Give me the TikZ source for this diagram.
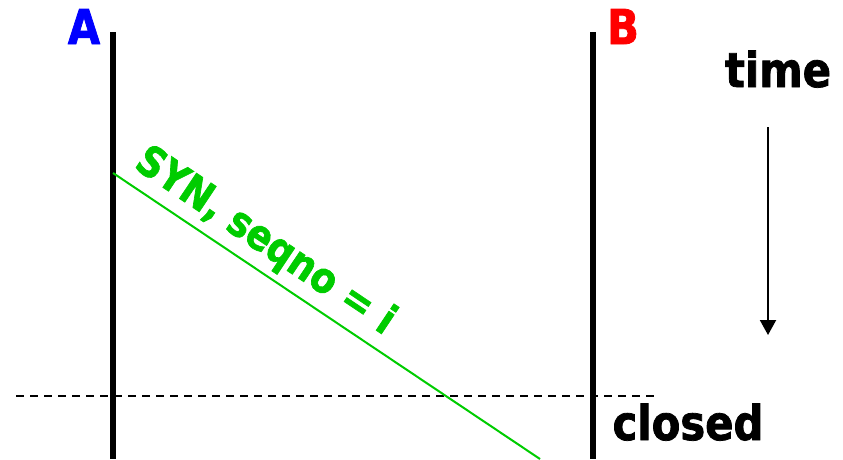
\documentclass[tikz,border=0pt]{standalone}
\usepackage{fontspec}
\setmainfont{DejaVu Sans}[FakeStretch=0.87,BoldFeatures={FakeBold=1.6}]
\usetikzlibrary{arrows.meta}
\definecolor{synGreen}{RGB}{0,204,0}
\begin{document}
\begin{tikzpicture}[x=1pt,y=-1pt,line cap=butt,
    lbl/.style={font=\fontsize{48}{48}\selectfont\bfseries,inner sep=0pt}]
  \useasboundingbox (0,0) rectangle (843,459);
  \def\top{32}
  \def\bot{459}
  % the two hosts
  \coordinate (Atop) at (113,\top);
  \coordinate (Abot) at (113,\bot);
  \coordinate (Btop) at (593,\top);
  \coordinate (Bbot) at (593,\bot);
  \draw[line width=6pt] (Atop) -- (Abot);
  \draw[line width=6pt] (Btop) -- (Bbot);
  \node[lbl,text=blue,anchor=base] (labA) at (84,44) {A};
  \node[lbl,text=red,anchor=base] (labB) at (623,44) {B};
  % time axis
  \node[lbl,anchor=base] (labT) at (778,87) {time};
  \coordinate (Ttop) at (768,127);
  \coordinate (Tbot) at (768,335);
  \draw[line width=2pt,-{Triangle[width=16pt,length=15pt]}] (Ttop) -- (Tbot);
  % closed
  \coordinate (Dl) at (16,396);
  \coordinate (Dr) at (655,396);
  \draw[line width=2pt,dash pattern=on 8pt off 6pt] (Dl) -- (Dr);
  \node[lbl,anchor=base] (labC) at (688,440) {closed};
  % SYN segment
  \coordinate (S0) at (113,173);
  \coordinate (S1) at (540,459);
  \draw[synGreen,line width=2pt] (S0) -- (S1)
    node[pos=0.32,sloped,above=6pt,text=synGreen,
         font=\fontsize{42}{42}\selectfont\bfseries,inner sep=0pt] (labS) {SYN, seqno = i};
\end{tikzpicture}
\end{document}
